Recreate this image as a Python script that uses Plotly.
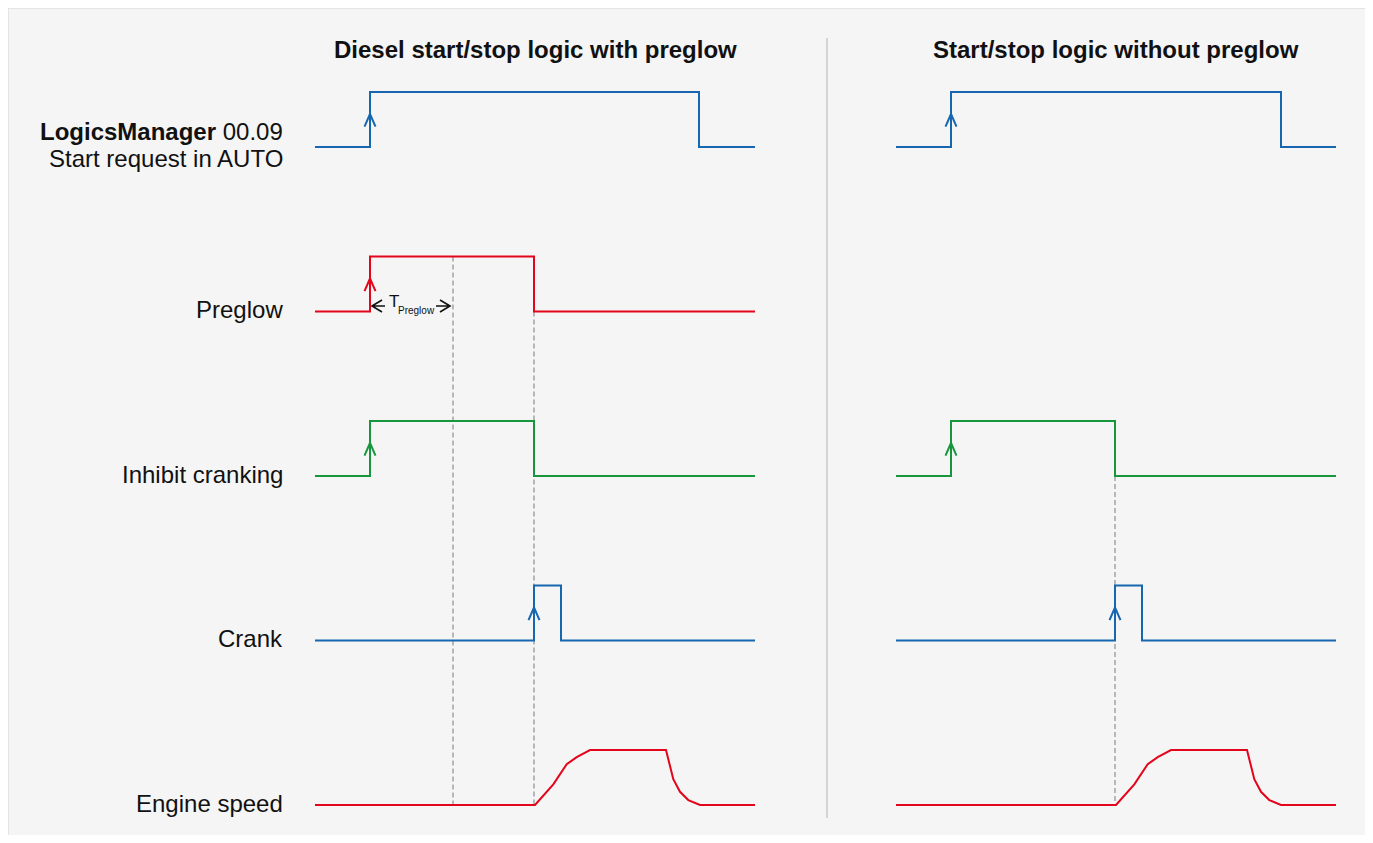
import plotly.graph_objects as go

# ---------------- data (time units, levels 0/1) ----------------
ROW_LABELS = ["Start request in AUTO", "Preglow", "Inhibit cranking", "Crank", "Engine speed"]
PANEL_TITLES = ["Diesel start/stop logic with preglow", "Start/stop logic without preglow"]

start_t = [0, 55, 55, 384, 384, 440]
start_lv = [0, 0, 1, 1, 0, 0]
start_t_right = [0, 55, 55, 385, 385, 440]

preglow_t = [0, 55, 55, 219, 219, 440]
preglow_lv = [0, 0, 1, 1, 0, 0]

inhibit_t = [0, 55, 55, 219, 219, 440]
inhibit_lv = [0, 0, 1, 1, 0, 0]

crank_t = [0, 219, 219, 246, 246, 440]
crank_lv = [0, 0, 1, 1, 0, 0]

speed_t = [0, 220, 238.3, 251.7, 261.7, 275, 351, 358.3, 365, 373.3, 385, 440]
speed_lv = [0, 0, 0.376, 0.74, 0.87, 1, 1, 0.47, 0.24, 0.09, 0, 0]

t_preglow_end = 138  # end of preglow time
rise_t = 55
crank_on = 219

BLUE = "#1766b0"
RED = "#e3051b"
GREEN = "#17963e"
GRAY = "#8f8f8f"
INK = "#111111"
FONT = "Liberation Sans, Arial, sans-serif"

OFF = 8                       # page body margin
W, H = 1373 - 2 * OFF, 843 - 2 * OFF
PX = 55.0                     # pixels per level unit
ROW_GAP = 164.5 / PX
TOP_BASE_PX = 147.0 - OFF
LEFT_X0, RIGHT_X0 = 315 - OFF, 896 - OFF

def base(row):
    return -row * ROW_GAP

def yv(row, lv):
    return [base(row) + v for v in lv]

def px_x(page_x):
    return (page_x - OFF) / W

def px_y(page_y):
    return 1 - (page_y - OFF) / H

fig = go.Figure()

def line(xs, ys, color, axis="x", dash=None, width=2):
    fig.add_trace(go.Scatter(x=xs, y=ys, mode="lines", xaxis=axis, yaxis="y",
                             line=dict(color=color, width=width, dash=dash),
                             hoverinfo="skip", showlegend=False))

def up_arrow(t, row, color, axis):
    b = base(row)
    line([t - 5.5, t, t + 5.5], [b + 0.37, b + 0.6, b + 0.37], color, axis)

# dashed guides (behind)
DASH = "5px,3px"
line([t_preglow_end, t_preglow_end], [base(1) + 1, base(4)], GRAY, "x", DASH, 1.2)
line([crank_on, crank_on], [base(1), base(4)], GRAY, "x", DASH, 1.2)
line([crank_on, crank_on], [base(2), base(4)], GRAY, "x2", DASH, 1.2)

# left panel
line(start_t, yv(0, start_lv), BLUE, "x")
line(preglow_t, yv(1, preglow_lv), RED, "x")
line(inhibit_t, yv(2, inhibit_lv), GREEN, "x")
line(crank_t, yv(3, crank_lv), BLUE, "x")
line(speed_t, yv(4, speed_lv), RED, "x")
up_arrow(rise_t, 0, BLUE, "x")
up_arrow(rise_t, 1, RED, "x")
up_arrow(rise_t, 2, GREEN, "x")
up_arrow(crank_on, 3, BLUE, "x")

# T_preglow dimension arrows
yb = base(1) + 0.1
line([rise_t + 15, rise_t + 2, rise_t + 12, rise_t + 2, rise_t + 12],
     [yb, yb, yb + 0.11, yb, yb - 0.11], INK, "x", None, 1.6)
line([t_preglow_end - 17, t_preglow_end - 3, t_preglow_end - 13, t_preglow_end - 3, t_preglow_end - 13],
     [yb, yb, yb + 0.11, yb, yb - 0.11], INK, "x", None, 1.6)

# right panel
line(start_t_right, yv(0, start_lv), BLUE, "x2")
line(inhibit_t, yv(2, inhibit_lv), GREEN, "x2")
line(crank_t, yv(3, crank_lv), BLUE, "x2")
line(speed_t, yv(4, speed_lv), RED, "x2")
up_arrow(rise_t, 0, BLUE, "x2")
up_arrow(rise_t, 2, GREEN, "x2")
up_arrow(crank_on, 3, BLUE, "x2")

annotations = []
LBL = dict(family=FONT, size=24, color=INK)
LX = -30
# row labels
annotations.append(dict(x=LX, y=base(0) + 16 / PX, xref="x", yref="y",
                        text="<b>LogicsManager</b> 00.09", showarrow=False,
                        xanchor="right", yanchor="middle", font=LBL))
annotations.append(dict(x=LX, y=base(0) - 11 / PX, xref="x", yref="y",
                        text=ROW_LABELS[0], showarrow=False,
                        xanchor="right", yanchor="middle", font=LBL))
for i, lab in enumerate(ROW_LABELS[1:], start=1):
    annotations.append(dict(x=LX, y=base(i) + 2 / PX, xref="x", yref="y", text=lab, showarrow=False,
                            xanchor="right", yanchor="middle", font=LBL))
# T_preglow label
annotations.append(dict(x=79, y=base(1) + 10 / PX, xref="x", yref="y", text="T", showarrow=False,
                        xanchor="center", yanchor="middle", font=dict(family=FONT, size=17, color=INK)))
annotations.append(dict(x=101, y=base(1) + 1.5 / PX, xref="x", yref="y", text="Preglow", showarrow=False,
                        xanchor="center", yanchor="middle", font=dict(family=FONT, size=10, color=INK)))
# titles
for cx, title in zip([535, 1116], PANEL_TITLES):
    annotations.append(dict(x=px_x(cx), y=px_y(50), xref="paper", yref="paper",
                            text="<b>" + title + "</b>", showarrow=False,
                            xanchor="center", yanchor="middle", font=LBL))

shapes = [
    dict(type="rect", xref="paper", yref="paper", x0=0, x1=px_x(1370), y0=-0.05, y1=1.0,
         fillcolor="#f5f5f5", line=dict(color="#dedede", width=1.5), layer="below"),
    dict(type="line", xref="paper", yref="paper", x0=px_x(827), x1=px_x(827), y0=px_y(38), y1=px_y(818),
         line=dict(color="#c8c8c8", width=1.5), layer="below"),
]

ymax = TOP_BASE_PX / PX
ymin = ymax - H / PX
fig.update_layout(
    width=W, height=H, margin=dict(l=0, r=0, t=0, b=0),
    paper_bgcolor="white", plot_bgcolor="rgba(0,0,0,0)",
    xaxis=dict(range=[-LEFT_X0, W - LEFT_X0], visible=False, fixedrange=True),
    xaxis2=dict(range=[-RIGHT_X0, W - RIGHT_X0], visible=False, overlaying="x", fixedrange=True),
    yaxis=dict(range=[ymin, ymax], visible=False, fixedrange=True),
    annotations=annotations, shapes=shapes, showlegend=False,
)
fig.write_html("out.html")
